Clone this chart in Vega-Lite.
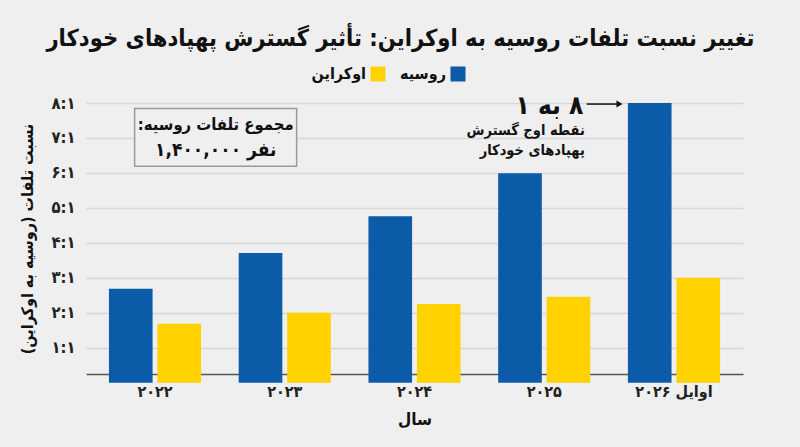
{
  "$schema": "https://vega.github.io/schema/vega-lite/v6.json",
  "width": 657,
  "height": 271,
  "autosize": {"type": "none"},
  "padding": {"left": 86, "top": 103, "right": 57, "bottom": 73},
  "background": "#efefef",
  "title": {
    "text": "تغییر نسبت تلفات روسیه به اوکراین: تأثیر گسترش پهپادهای خودکار",
    "anchor": "middle",
    "dx": -14,
    "offset": 16,
    "fontSize": 23.5,
    "fontWeight": "bold",
    "color": "#111111"
  },
  "resolve": {"scale": {"x": "independent", "y": "independent"}},
  "layer": [
    {
      "data": {
        "values": [
          {"year": "۲۰۲۲", "country": "روسیه", "ratio": 2.69},
          {"year": "۲۰۲۲", "country": "اوکراین", "ratio": 1.69},
          {"year": "۲۰۲۳", "country": "روسیه", "ratio": 3.71},
          {"year": "۲۰۲۳", "country": "اوکراین", "ratio": 2.0},
          {"year": "۲۰۲۴", "country": "روسیه", "ratio": 4.76},
          {"year": "۲۰۲۴", "country": "اوکراین", "ratio": 2.25},
          {"year": "۲۰۲۵", "country": "روسیه", "ratio": 5.99},
          {"year": "۲۰۲۵", "country": "اوکراین", "ratio": 2.46},
          {"year": "اوایل ۲۰۲۶", "country": "روسیه", "ratio": 8.0},
          {"year": "اوایل ۲۰۲۶", "country": "اوکراین", "ratio": 3.0}
        ]
      },
      "mark": {"type": "bar"},
      "encoding": {
        "x": {
          "field": "year",
          "type": "nominal",
          "sort": null,
          "scale": {"paddingInner": 0.29, "paddingOuter": 0.177},
          "axis": {
            "title": "سال",
            "labelAngle": 0,
            "ticks": false,
            "grid": false,
            "domainColor": "#555555",
            "domainWidth": 1.5,
            "labelFontSize": 16,
            "labelFontWeight": "bold",
            "labelColor": "#222222",
            "labelPadding": 9,
            "titlePadding": 12,
            "titleFontSize": 17,
            "titleFontWeight": "bold",
            "titleColor": "#111111"
          }
        },
        "xOffset": {
          "field": "country",
          "type": "nominal",
          "sort": ["روسیه", "اوکراین"],
          "scale": {"paddingInner": 0.1, "paddingOuter": 0}
        },
        "y": {
          "field": "ratio",
          "type": "quantitative",
          "scale": {"domain": [0.25, 8], "nice": false, "zero": false},
          "axis": {
            "title": "نسبت تلفات (روسیه به اوکراین)",
            "values": [1, 2, 3, 4, 5, 6, 7, 8],
            "labelExpr": "['', '۱:۱', '۲:۱', '۳:۱', '۴:۱', '۵:۱', '۶:۱', '۷:۱', '۸:۱'][datum.value]",
            "domain": false,
            "ticks": false,
            "grid": true,
            "gridColor": "#d6d6d6",
            "gridWidth": 1.5,
            "labelFontSize": 16.5,
            "labelFontWeight": "bold",
            "labelColor": "#222222",
            "labelPadding": 11,
            "titleFontSize": 16,
            "titleFontWeight": "bold",
            "titleColor": "#111111",
            "titleX": -59,
            "titleBaseline": "middle"
          }
        },
        "color": {
          "field": "country",
          "type": "nominal",
          "scale": {"domain": ["اوکراین", "روسیه"], "range": ["#FFD200", "#0B5BA8"]},
          "legend": {
            "title": null,
            "orient": "none",
            "direction": "horizontal",
            "legendX": 284,
            "legendY": -37,
            "symbolType": "square",
            "symbolSize": 225,
            "symbolStrokeWidth": 0,
            "symbolOpacity": 1,
            "labelFontSize": 16,
            "labelFontWeight": "bold",
            "labelColor": "#111111",
            "labelAlign": "right",
            "labelOffset": -20,
            "columnPadding": 14
          }
        }
      }
    },
    {
      "layer": [
        {
          "data": {"values": [{"x0": 0.37, "x1": 1.603, "y0": 6.19, "y1": 7.84}]},
          "mark": {"type": "rect", "fill": "#efefef", "stroke": "#9a9a9a", "strokeWidth": 1.5},
          "encoding": {
            "x": {"field": "x0", "type": "quantitative", "scale": {"domain": [0, 5], "nice": false}, "axis": null},
            "x2": {"field": "x1"},
            "y": {"field": "y0", "type": "quantitative", "scale": {"domain": [0.25, 8], "nice": false, "zero": false}, "axis": null},
            "y2": {"field": "y1"}
          }
        },
        {
          "data": {"values": [{"t": "مجموع تلفات روسیه:\u200f", "x": 0.987, "y": 7.38}]},
          "mark": {"type": "text", "fontSize": 16.5, "fontWeight": "bold", "color": "#111111", "baseline": "middle"},
          "encoding": {
            "x": {"field": "x", "type": "quantitative", "scale": {"domain": [0, 5], "nice": false}, "axis": null},
            "y": {"field": "y", "type": "quantitative", "scale": {"domain": [0.25, 8], "nice": false, "zero": false}, "axis": null},
            "text": {"field": "t"}
          }
        },
        {
          "data": {"values": [{"t": "۱,۴۰۰,۰۰۰ نفر", "x": 0.987, "y": 6.67}]},
          "mark": {"type": "text", "fontSize": 19, "fontWeight": "bold", "color": "#111111", "baseline": "middle"},
          "encoding": {
            "x": {"field": "x", "type": "quantitative", "scale": {"domain": [0, 5], "nice": false}, "axis": null},
            "y": {"field": "y", "type": "quantitative", "scale": {"domain": [0.25, 8], "nice": false, "zero": false}, "axis": null},
            "text": {"field": "t"}
          }
        },
        {
          "data": {"values": [{"t": "\u200f۸ به ۱", "x": 3.785, "y": 7.92}]},
          "mark": {"type": "text", "fontSize": 26, "fontWeight": "bold", "color": "#111111", "baseline": "middle", "align": "right"},
          "encoding": {
            "x": {"field": "x", "type": "quantitative", "scale": {"domain": [0, 5], "nice": false}, "axis": null},
            "y": {"field": "y", "type": "quantitative", "scale": {"domain": [0.25, 8], "nice": false, "zero": false}, "axis": null},
            "text": {"field": "t"}
          }
        },
        {
          "data": {
            "values": [
              {"t": "نقطه اوج گسترش", "x": 3.796, "y": 7.19},
              {"t": "پهپادهای خودکار", "x": 3.796, "y": 6.62}
            ]
          },
          "mark": {"type": "text", "fontSize": 14.5, "fontWeight": "bold", "color": "#111111", "baseline": "middle", "align": "right"},
          "encoding": {
            "x": {"field": "x", "type": "quantitative", "scale": {"domain": [0, 5], "nice": false}, "axis": null},
            "y": {"field": "y", "type": "quantitative", "scale": {"domain": [0.25, 8], "nice": false, "zero": false}, "axis": null},
            "text": {"field": "t"}
          }
        },
        {
          "data": {"values": [{"x0": 3.81, "x1": 4.04, "y": 7.97}]},
          "mark": {"type": "rule", "color": "#111111", "strokeWidth": 1.5},
          "encoding": {
            "x": {"field": "x0", "type": "quantitative", "scale": {"domain": [0, 5], "nice": false}, "axis": null},
            "x2": {"field": "x1"},
            "y": {"field": "y", "type": "quantitative", "scale": {"domain": [0.25, 8], "nice": false, "zero": false}, "axis": null}
          }
        },
        {
          "data": {"values": [{"x": 4.06, "y": 7.97}]},
          "mark": {"type": "point", "shape": "triangle-right", "size": 50, "filled": true, "color": "#111111", "opacity": 1},
          "encoding": {
            "x": {"field": "x", "type": "quantitative", "scale": {"domain": [0, 5], "nice": false}, "axis": null},
            "y": {"field": "y", "type": "quantitative", "scale": {"domain": [0.25, 8], "nice": false, "zero": false}, "axis": null}
          }
        }
      ]
    }
  ],
  "config": {
    "view": {"stroke": null},
    "font": "DejaVu Sans Condensed"
  }
}
